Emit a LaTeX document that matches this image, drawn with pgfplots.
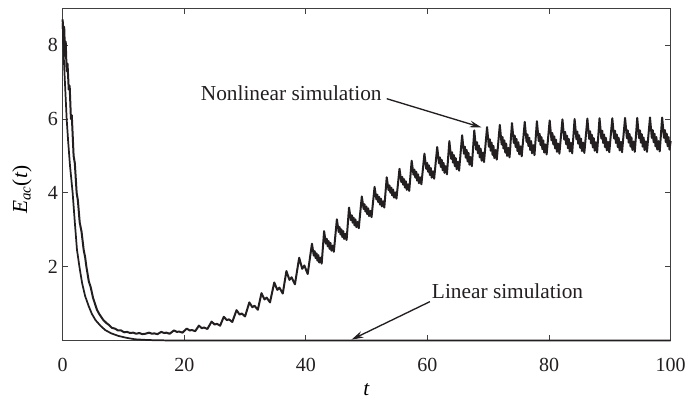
\documentclass[border=0pt]{standalone}
\usepackage{fontspec}
\setmainfont{Liberation Serif}
\usepackage{pgfplots}
\pgfplotsset{compat=1.18}
\usetikzlibrary{arrows.meta}
\definecolor{ink}{HTML}{231F20}
\begin{document}
\begin{tikzpicture}
\begin{axis}[
  scale only axis, width=456pt, height=249.1pt,
  xmin=0, xmax=100, ymin=0, ymax=9,
  xtick={0,20,40,60,80,100}, ytick={2,4,6,8},
  tick align=inside, major tick length=4pt,
  axis line style={black!75, line width=0.6pt},
  every tick/.style={black!75, line width=0.6pt},
  /pgf/number format/assume math mode=true,
  tick label style={font=\fontsize{15}{18}\selectfont, text=ink},
  xticklabel style={yshift=-9.5pt},
  xlabel={\textit{t}}, ylabel={\textit{E}\textsubscript{\textit{ac}}(\textit{t})},
  xlabel style={font=\fontsize{16}{19}\selectfont, at={(axis description cs:0.5,0)}, anchor=center, inner sep=0pt, yshift=-37pt},
  ylabel style={font=\fontsize{16}{19}\selectfont, at={(axis description cs:-0.067,0.454)}, anchor=center},
  clip=false,
]
% Linear simulation
\addplot[ink, line width=1.3pt] coordinates {
(0,8.6) (0.2,7.6) (0.4,6.9) (0.66,6.0) (0.9,5.4) (1.2,4.75) (1.64,4.0) (2.0,3.2) (2.35,2.46) (2.8,1.95) (3.2,1.55) (3.7,1.2) (4.3,0.92) (4.8,0.72) (5.4,0.55) (6.2,0.4) (7.0,0.28) (8.0,0.19) (9.2,0.12) (10.5,0.07) (11.9,0.03) (13.5,0.015) (15,0.005) (17,0) (100,0)
};
% Nonlinear simulation
\addplot[ink, line width=1.5pt, line join=round] coordinates {
(0,8.7) (0.15,8.0) (0.25,8.5) (0.4,7.7) (0.5,8.1) (0.65,7.3) (0.8,7.5) (1.0,6.8) (1.15,6.9) (1.36,6.0) (1.5,6.1) (1.8,5.0) (2.0,4.8) (2.3,4.0) (2.5,3.8) (2.8,3.2) (3.1,2.95) (3.45,2.46) (3.7,2.25) (3.9,2.0) (4.3,1.6) (4.6,1.45) (5.0,1.15) (5.3,1.0) (5.64,0.83) (6.0,0.72) (6.4,0.62) (6.7,0.55) (7.2,0.47) (7.6,0.42) (8.1,0.34) (8.6,0.32) (9.1,0.27) (9.6,0.27) (10.1,0.22) (10.6,0.23) (11.1,0.20) (11.6,0.21) (12.1,0.18) (12.6,0.20) (13.1,0.17) (13.6,0.18)
(14.2,0.21) (14.7,0.18) (15.05,0.19) (15.6,0.17)
(16.2,0.23) (16.7,0.20) (17.05,0.21) (17.6,0.18)
(18.3,0.27) (18.8,0.23) (19.15,0.24) (19.7,0.21)
(20.4,0.32) (20.9,0.27) (21.25,0.28) (21.8,0.25)
(22.4,0.40) (22.9,0.33) (23.25,0.35) (23.8,0.31)
(24.5,0.51) (25.0,0.43) (25.35,0.45) (25.9,0.40)
(26.5,0.64) (27.0,0.55) (27.35,0.57) (27.9,0.50)
(28.6,0.82) (29.1,0.70) (29.45,0.73) (30.0,0.65)
(30.7,1.03) (31.2,0.90) (31.55,0.94) (32.1,0.83)
(32.7,1.28) (33.2,1.11) (33.55,1.16) (34.1,1.03)
(34.8,1.57) (35.3,1.37) (35.65,1.43) (36.2,1.27)
(36.8,1.88) (37.3,1.64) (37.65,1.71) (38.2,1.52)
(38.9,2.24) (39.4,1.94) (39.75,2.03) (40.3,1.80)
(41.0,2.62) (41.3,2.30) (41.45,2.42) (41.6,2.23) (41.75,2.36) (41.9,2.16) (42.05,2.31) (42.2,2.11) (42.4,2.24) (42.6,2.08)
(43.0,2.96) (43.3,2.62) (43.45,2.75) (43.6,2.55) (43.75,2.69) (43.9,2.48) (44.05,2.64) (44.2,2.43) (44.4,2.57) (44.6,2.40)
(45.1,3.28) (45.4,2.94) (45.55,3.07) (45.7,2.87) (45.85,3.01) (46.0,2.80) (46.15,2.96) (46.3,2.75) (46.5,2.89) (46.7,2.72)
(47.1,3.60) (47.4,3.26) (47.55,3.39) (47.7,3.19) (47.85,3.33) (48.0,3.12) (48.15,3.28) (48.3,3.07) (48.5,3.21) (48.7,3.04)
(49.2,3.90) (49.5,3.56) (49.65,3.69) (49.8,3.49) (49.95,3.63) (50.1,3.42) (50.25,3.58) (50.4,3.37) (50.6,3.51) (50.8,3.34)
(51.3,4.16) (51.6,3.82) (51.75,3.95) (51.9,3.75) (52.05,3.89) (52.2,3.68) (52.35,3.84) (52.5,3.63) (52.7,3.77) (52.9,3.60)
(53.3,4.42) (53.6,4.07) (53.75,4.20) (53.9,4.00) (54.05,4.14) (54.2,3.93) (54.35,4.09) (54.5,3.87) (54.7,4.01) (54.9,3.84)
(55.4,4.65) (55.7,4.29) (55.85,4.43) (56.0,4.22) (56.15,4.37) (56.3,4.14) (56.45,4.31) (56.6,4.08) (56.8,4.23) (57.0,4.05)
(57.4,4.87) (57.7,4.49) (57.85,4.63) (58.0,4.41) (58.15,4.57) (58.3,4.33) (58.45,4.50) (58.6,4.26) (58.8,4.42) (59.0,4.23)
(59.5,5.06) (59.8,4.65) (59.95,4.81) (60.1,4.57) (60.25,4.74) (60.4,4.48) (60.55,4.67) (60.7,4.41) (60.9,4.58) (61.1,4.38)
(61.6,5.24) (61.9,4.80) (62.05,4.96) (62.2,4.70) (62.35,4.89) (62.5,4.61) (62.65,4.81) (62.8,4.54) (63.0,4.72) (63.2,4.50)
(63.6,5.40) (63.9,4.92) (64.05,5.10) (64.2,4.82) (64.35,5.02) (64.5,4.72) (64.65,4.94) (64.8,4.64) (65.0,4.84) (65.2,4.60)
(65.7,5.56) (66.0,5.06) (66.15,5.25) (66.3,4.95) (66.45,5.16) (66.6,4.85) (66.75,5.08) (66.9,4.76) (67.1,4.97) (67.3,4.72)
(67.7,5.69) (68.0,5.17) (68.15,5.37) (68.3,5.07) (68.45,5.28) (68.6,4.96) (68.75,5.20) (68.9,4.87) (69.1,5.09) (69.3,4.83)
(69.8,5.78) (70.1,5.25) (70.25,5.45) (70.4,5.14) (70.55,5.36) (70.7,5.03) (70.85,5.27) (71.0,4.94) (71.2,5.16) (71.4,4.90)
(71.9,5.84) (72.2,5.31) (72.35,5.51) (72.5,5.20) (72.65,5.42) (72.8,5.09) (72.95,5.33) (73.1,5.00) (73.3,5.22) (73.5,4.96)
(73.9,5.89) (74.2,5.35) (74.35,5.55) (74.5,5.24) (74.65,5.46) (74.8,5.13) (74.95,5.37) (75.1,5.04) (75.3,5.26) (75.5,4.99)
(76.0,5.92) (76.3,5.38) (76.45,5.58) (76.6,5.27) (76.75,5.49) (76.9,5.16) (77.05,5.40) (77.2,5.07) (77.4,5.29) (77.6,5.02)
(78.0,5.94) (78.3,5.40) (78.45,5.60) (78.6,5.29) (78.75,5.51) (78.9,5.18) (79.05,5.42) (79.2,5.09) (79.4,5.31) (79.6,5.04)
(80.1,5.96) (80.4,5.42) (80.55,5.62) (80.7,5.31) (80.85,5.53) (81.0,5.20) (81.15,5.44) (81.3,5.11) (81.5,5.33) (81.7,5.06)
(82.2,5.99) (82.5,5.44) (82.65,5.65) (82.8,5.32) (82.95,5.55) (83.1,5.21) (83.25,5.46) (83.4,5.12) (83.6,5.35) (83.8,5.07)
(84.2,6.00) (84.5,5.45) (84.65,5.66) (84.8,5.33) (84.95,5.56) (85.1,5.22) (85.25,5.47) (85.4,5.13) (85.6,5.36) (85.8,5.08)
(86.3,6.01) (86.6,5.46) (86.75,5.67) (86.9,5.34) (87.05,5.57) (87.2,5.23) (87.35,5.48) (87.5,5.14) (87.7,5.37) (87.9,5.09)
(88.3,6.02) (88.6,5.47) (88.75,5.68) (88.9,5.35) (89.05,5.58) (89.2,5.24) (89.35,5.49) (89.5,5.15) (89.7,5.38) (89.9,5.10)
(90.4,6.02) (90.7,5.47) (90.85,5.68) (91.0,5.35) (91.15,5.58) (91.3,5.24) (91.45,5.49) (91.6,5.15) (91.8,5.38) (92.0,5.10)
(92.5,6.03) (92.8,5.48) (92.95,5.69) (93.1,5.36) (93.25,5.59) (93.4,5.25) (93.55,5.50) (93.7,5.16) (93.9,5.39) (94.1,5.11)
(94.5,6.03) (94.8,5.48) (94.95,5.69) (95.1,5.36) (95.25,5.59) (95.4,5.25) (95.55,5.50) (95.7,5.16) (95.9,5.39) (96.1,5.11)
(96.6,6.04) (96.9,5.49) (97.05,5.70) (97.2,5.37) (97.35,5.60) (97.5,5.26) (97.65,5.51) (97.8,5.17) (98.0,5.40) (98.2,5.12)
(98.6,6.04) (98.9,5.49) (99.05,5.70) (99.2,5.37) (99.35,5.60) (99.5,5.26) (99.65,5.51) (99.8,5.17) (100.0,5.40)
};
\node[anchor=base east, font=\fontsize{16}{19}\selectfont, text=ink, inner sep=0pt] at (axis cs:52.5,6.5) {Nonlinear simulation};
\draw[ink, line width=1pt, -{Stealth[length=9pt,width=5pt]}] (axis cs:53.3,6.55) -- (axis cs:68.9,5.77);
\node[anchor=base west, font=\fontsize{16}{19}\selectfont, text=ink, inner sep=0pt] at (axis cs:60.7,1.14) {Linear simulation};
\draw[ink, line width=1pt, -{Stealth[length=9pt,width=5pt]}] (axis cs:60.4,1.05) -- (axis cs:47.5,0.02);
\end{axis}
\pgfresetboundingbox
\path (-47pt,-44.7pt) rectangle (467.5pt,255.3pt);
\end{tikzpicture}
\end{document}
